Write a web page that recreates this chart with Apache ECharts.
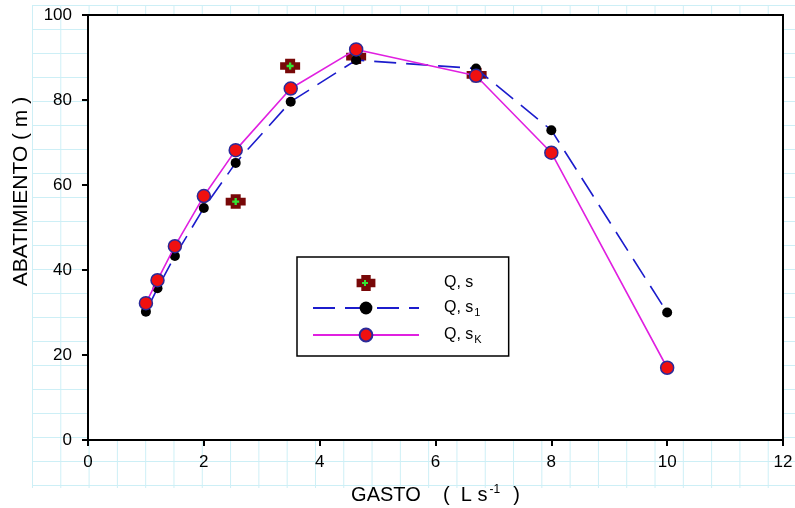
<!DOCTYPE html>
<html>
<head>
<meta charset="utf-8">
<script src="https://cdn.jsdelivr.net/npm/echarts@6/dist/echarts.min.js"></script>
<style>
  html, body { margin: 0; padding: 0; background: #ffffff; }
  #wrap { position: relative; width: 795px; height: 508px; }
  #paper {
    position: absolute; left: 32px; top: 5px; width: 763px; height: 483px;
    background-image:
      linear-gradient(to right, #cdeff6 1px, transparent 1px),
      linear-gradient(to bottom, #cdeff6 1px, transparent 1px);
    background-size: 28.3px 24px;
  }
  #chart { position: absolute; left: 0; top: 0; width: 795px; height: 508px; }
</style>
</head>
<body>
<div id="wrap">
  <div id="paper"></div>
  <div id="chart"></div>
</div>
<script>
// ---- data ----
const gasto = [1.0, 1.2, 1.5, 2.0, 2.55, 3.5, 4.63, 6.7, 8.0, 10.0];
const s1 = [30.2, 35.7, 43.3, 54.6, 65.2, 79.6, 89.4, 87.4, 72.9, 30.0];
const sK = [32.2, 37.6, 45.6, 57.4, 68.2, 82.7, 91.9, 85.7, 67.6, 17.0];
const gastoObs = [2.55, 3.49, 4.63, 6.71];
const sObs = [56.1, 88.0, 90.2, 85.9];
const xTicks = [0, 2, 4, 6, 8, 10, 12];
const yTicks = [0, 20, 40, 60, 80, 100];
const seriesNames = ['Q, s', 'Q, s1', 'Q, sK'];

const pair = (xs, ys) => xs.map((x, i) => [x, ys[i]]);

const FONT = 'Liberation Sans';
const crossPath = 'path://M5,0 H15 V4 H20 V13 H15 V17 H5 V13 H0 V4 H5 Z';
const plusPath = 'path://M2,0 H4 V2 H6 V4 H4 V6 H2 V4 H0 V2 H2 Z';
const CROSS_COLOR = '#780808';
const PLUS_COLOR = '#33e533';

const LEG_LEFT = 297, LEG_TOP = 257, LEG_PAD = [18, 27, 11, 15], ICON_W = 106, ICON_H = 16;

const chart = echarts.init(document.getElementById('chart'), null, { renderer: 'canvas' });

const axisCommon = {
  axisLine: { show: true, onZero: false, lineStyle: { color: '#000', width: 2 } },
  axisTick: { show: true, inside: false, length: 6, lineStyle: { color: '#000', width: 2 } },
  splitLine: { show: false },
  axisLabel: { color: '#000', fontFamily: FONT, fontSize: 17 }
};

// small green plus drawn inside the legend's Q, s icon
const pcx = LEG_LEFT + LEG_PAD[3] + ICON_W / 2;
const pcy = LEG_TOP + LEG_PAD[0] + ICON_H / 2;
const plusPts = [[-1, -3], [1, -3], [1, -1], [3, -1], [3, 1], [1, 1], [1, 3], [-1, 3], [-1, 1], [-3, 1], [-3, -1], [-1, -1]]
  .map(p => [pcx + p[0], pcy + p[1]]);

chart.setOption({
  backgroundColor: 'transparent',
  animation: false,
  grid: {
    left: 88, top: 15, right: 12, bottom: 68,
    containLabel: false, outerBoundsMode: 'none',
    show: true, backgroundColor: '#ffffff', borderColor: '#000', borderWidth: 2
  },
  xAxis: Object.assign({}, axisCommon, {
    type: 'value', min: xTicks[0], max: xTicks[xTicks.length - 1], interval: 2,
    axisLabel: Object.assign({}, axisCommon.axisLabel, { margin: 14 }),
    name: '{t|GASTO}{t|    (  L s}{sup|-1}{t|  )}',
    nameLocation: 'middle', nameGap: 44,
    nameTextStyle: {
      fontFamily: FONT, color: '#000',
      rich: {
        t: { fontFamily: FONT, fontSize: 20, color: '#000' },
        sup: { fontFamily: FONT, fontSize: 12, color: '#000', verticalAlign: 'top', padding: [0, 2, 10, 2] }
      }
    }
  }),
  yAxis: Object.assign({}, axisCommon, {
    type: 'value', min: yTicks[0], max: yTicks[yTicks.length - 1], interval: 20,
    axisLabel: Object.assign({}, axisCommon.axisLabel, { margin: 16 }),
    name: 'ABATIMIENTO ( m )',
    nameLocation: 'middle', nameRotate: 90, nameGap: 56,
    nameTextStyle: { fontFamily: FONT, fontSize: 21, color: '#000', padding: [0, 0, 0, 72] }
  }),
  legend: {
    data: seriesNames,
    orient: 'vertical',
    left: LEG_LEFT, top: LEG_TOP,
    backgroundColor: '#fff',
    borderColor: '#000', borderWidth: 1.5,
    padding: LEG_PAD,
    itemWidth: ICON_W, itemHeight: ICON_H, itemGap: 9,
    selectedMode: false,
    formatter: function (name) {
      if (name === 'Q, s1') return '{m|Q, s}{sub|1}';
      if (name === 'Q, sK') return '{m|Q, s}{sub|K}';
      return '{m|Q, s}';
    },
    textStyle: {
      fontFamily: FONT, color: '#000',
      rich: {
        m: { fontFamily: FONT, fontSize: 16, color: '#000', padding: [0, 0, 0, 20] },
        sub: { fontFamily: FONT, fontSize: 11, color: '#000', verticalAlign: 'bottom', padding: [9, 0, 0, 1] }
      }
    }
  },
  graphic: [{
    type: 'polygon', z: 100, silent: true,
    shape: { points: plusPts },
    style: { fill: PLUS_COLOR }
  }],
  series: [
    {
      name: 'Q, s', type: 'scatter', z: 2,
      data: pair(gastoObs, sObs),
      symbol: crossPath, symbolSize: [20, 17], symbolKeepAspect: true,
      itemStyle: { color: CROSS_COLOR, opacity: 1 }
    },
    {
      name: 'Q, s-inner', type: 'scatter', z: 3,
      data: pair(gastoObs, sObs),
      symbol: plusPath, symbolSize: 7,
      itemStyle: { color: PLUS_COLOR, opacity: 1 }
    },
    {
      name: 'Q, s1', type: 'line', z: 4,
      data: pair(gasto, s1),
      symbol: 'circle', symbolSize: 10, showAllSymbol: true,
      lineStyle: { color: '#1c1ccc', width: 1.6, type: [22, 10] },
      itemStyle: { color: '#000', borderColor: '#000', borderWidth: 0 }
    },
    {
      name: 'Q, sK', type: 'line', z: 5,
      data: pair(gasto, sK),
      symbol: 'circle', symbolSize: 13, showAllSymbol: true,
      lineStyle: { color: '#e020e0', width: 1.6 },
      itemStyle: { color: '#f01010', borderColor: '#2a2a9a', borderWidth: 1.5 }
    }
  ]
});
</script>
</body>
</html>
